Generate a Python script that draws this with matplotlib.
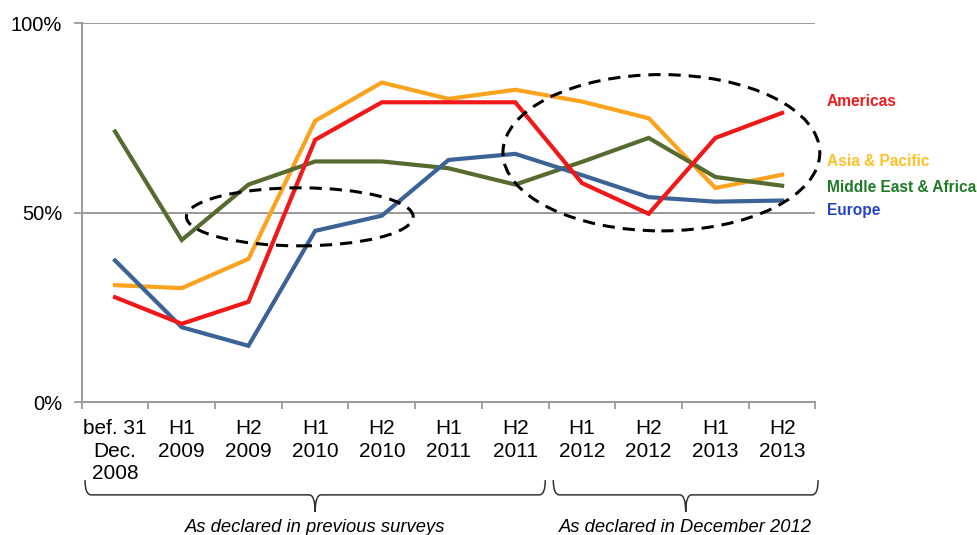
"""
Share of respondents by region, H1 2009 - H2 2013, with survey braces
"""

import matplotlib as mpl
mpl.use("Agg")
import matplotlib.pyplot as plt
import matplotlib.transforms as mtransforms
from matplotlib.patches import Ellipse, PathPatch
from matplotlib.path import Path

plt.rcParams["font.family"] = ["Liberation Sans", "DejaVu Sans"]

categories = ["bef. 31\nDec.\n2008", "H1\n2009", "H2\n2009", "H1\n2010", "H2\n2010",
              "H1\n2011", "H2\n2011", "H1\n2012", "H2\n2012", "H1\n2013", "H2\n2013"]
americas = [27.7, 20.7, 26.5, 69.2, 79.1, 79.1, 79.1, 57.8, 49.7, 69.7, 76.3]
asia_pacific = [30.9, 30.1, 37.8, 74.2, 84.3, 80.0, 82.4, 79.3, 74.9, 56.5, 60.0]
middle_east_africa = [71.4, 42.8, 57.4, 63.5, 63.5, 61.7, 57.4, 63.4, 69.7, 59.4, 57.1]
europe = [37.4, 19.8, 14.9, 45.2, 49.2, 63.9, 65.5, 59.9, 54.1, 52.9, 53.2]

series = [
    # (values, line colour, label, label colour, label y)
    (asia_pacific, "#fba21f", "Asia & Pacific", "#ffc12a", 63.6),
    (middle_east_africa, "#566b2f", "Middle East & Africa", "#1f7a25", 56.7),
    (europe, "#3c6396", "Europe", "#2446c2", 50.5),
    (americas, "#f01818", "Americas", "#ee1c1c", 79.3),
]

group_labels = [("As declared in previous surveys", -0.45, 6.45),
                ("As declared in December 2012", 6.57, 10.54)]

grey = "#9a9a9a"

fig = plt.figure(figsize=(9.78, 5.35), dpi=100)
ax = fig.add_axes([0.0835, 0.248, 0.7503, 0.709])

x = list(range(len(categories)))
for values, color, label, lcolor, ly in series:
    ax.plot(x, values, color=color, lw=3.0, solid_joinstyle="miter", zorder=3)
    ax.text(10.67, ly, label, color=lcolor, fontsize=11.2, fontweight="bold",
            va="center", ha="left", clip_on=False)

# dashed circles drawn on the original
for cx, cy, w, h in [(2.77, 48.9, 3.40, 15.3), (8.19, 65.8, 4.75, 41.2)]:
    ax.add_patch(Ellipse((cx, cy), w, h, fill=False, ec="black", lw=2.2,
                         ls=(0, (4, 2.6)), zorder=4, clip_on=False))

ax.set_xlim(-0.5, 10.5)
ax.set_ylim(0, 100)
ax.set_yticks([0, 50, 100])
ax.set_yticklabels(["0%", "50%", "100%"], fontsize=14.5)
ax.set_xticks(x)
ax.set_xticklabels(categories, fontsize=15, linespacing=1.25)
ax.set_xticks([i - 0.5 for i in range(len(categories) + 1)], minor=True)
ax.tick_params(axis="x", which="major", length=0, pad=12)
ax.tick_params(axis="x", which="minor", length=5, color=grey, width=1.3)
ax.tick_params(axis="y", length=6, color=grey, width=1.3, pad=8)

for s in ["top", "right"]:
    ax.spines[s].set_visible(False)
for s in ["left", "bottom"]:
    ax.spines[s].set_color(grey)
    ax.spines[s].set_linewidth(1.4)
for yv in [50, 100]:
    ax.axhline(yv, color=grey, lw=1.4, zorder=1)

# braces under the axis
trans = mtransforms.blended_transform_factory(ax.transData, ax.transAxes)
y_top, y_mid, y_tip, r = -0.205, -0.244, -0.289, 0.09
for text, x0, x1 in group_labels:
    xm = (x0 + x1) / 2
    verts = [(x0, y_top), (x0, y_mid), (x0 + r, y_mid),
             (xm - r, y_mid), (xm, y_mid), (xm, y_tip),
             (xm, y_mid), (xm + r, y_mid),
             (x1 - r, y_mid), (x1, y_mid), (x1, y_top)]
    codes = [Path.MOVETO, Path.CURVE3, Path.CURVE3,
             Path.LINETO, Path.CURVE3, Path.CURVE3,
             Path.CURVE3, Path.CURVE3,
             Path.LINETO, Path.CURVE3, Path.CURVE3]
    ax.add_patch(PathPatch(Path(verts, codes), fill=False, ec="#333333", lw=1.1,
                           transform=trans, clip_on=False))
    ax.text(xm, -0.331, text, transform=trans, fontsize=13.2, style="italic",
            ha="center", va="center", clip_on=False)

fig.savefig("out.png", dpi=100)
